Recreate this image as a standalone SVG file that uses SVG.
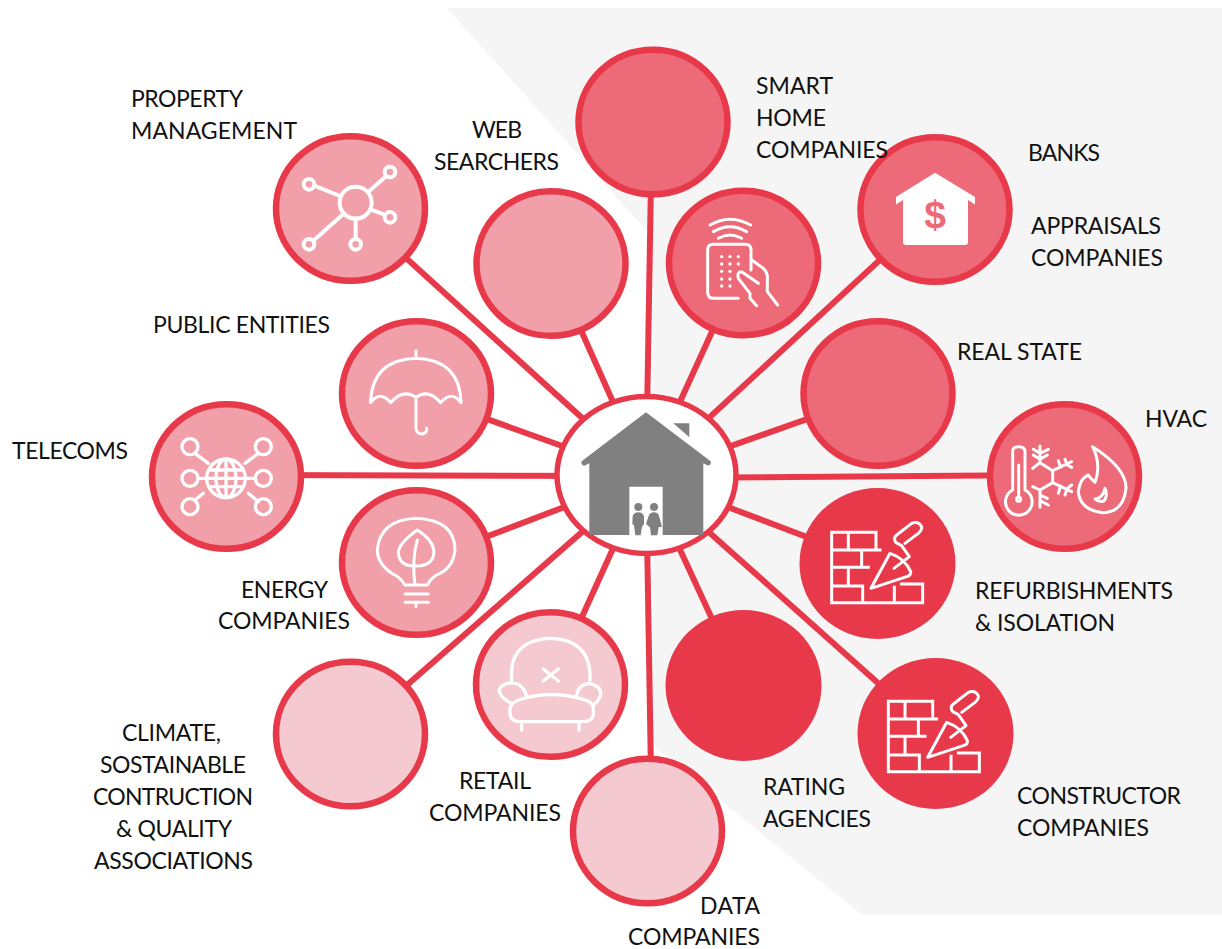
<svg xmlns="http://www.w3.org/2000/svg" width="1222" height="949" viewBox="0 0 1222 949">
<style>
text{font-family:"Lato","Open Sans","Liberation Sans",sans-serif;font-size:23px;fill:#111}
.c{stroke:#E8394A;stroke-width:6.500}
.d{fill:#E8394A}.m{fill:#ED6A78}.l{fill:#F19FA8}.p{fill:#F4CAD0}
.i{fill:none;stroke:#fff;stroke-width:9;stroke-linecap:round;stroke-linejoin:round}
#connectors line{stroke:#E8394A;stroke-width:6}
</style>
<defs>
<g id="bricks" class="i" transform="scale(.3333)" style="stroke-linecap:square;stroke-linejoin:miter">
<path d="M125,157H258V210H125ZM175,157V210M258,210H270M125,157V368M125,262H235M215,210V262M175,262V318M125,318H218V368M125,368H398V312H335M313,322V368"/>
<path d="M243,325L300,220Q345,235 362,275Q365,285 350,290Z" style="stroke-linejoin:round"/>
<path d="M312,265L358,230L335,197L318,188Q308,175 320,165L365,130Q385,122 395,140Q397,150 385,160L345,190" style="stroke-linejoin:round;stroke-linecap:round"/>
</g>
</defs>
<polygon points="447,8 1222,8 1222,915 862,915 653,745 653,238" fill="#F5F5F5"/>
<g id="connectors">
<line x1="646" y1="476" x2="351" y2="208"/>
<line x1="646" y1="476" x2="551" y2="263"/>
<line x1="646" y1="476" x2="652" y2="122"/>
<line x1="646" y1="476" x2="743" y2="264"/>
<line x1="646" y1="476" x2="935" y2="209"/>
<line x1="646" y1="476" x2="878" y2="394"/>
<line x1="646" y1="478" x2="1064" y2="475"/>
<line x1="646" y1="476" x2="878" y2="564"/>
<line x1="646" y1="476" x2="743" y2="686"/>
<line x1="646" y1="476" x2="935" y2="734"/>
<line x1="646" y1="476" x2="652" y2="831"/>
<line x1="646" y1="476" x2="551" y2="685"/>
<line x1="646" y1="476" x2="351" y2="734"/>
<line x1="646" y1="476" x2="417" y2="563"/>
<line x1="646" y1="476" x2="226" y2="475"/>
<line x1="646" y1="476" x2="417" y2="394"/>
</g>
<g id="node-property"><ellipse class="c l" cx="350.500" cy="208.500" rx="74.500" ry="72.300"/>
<g class="i" transform="translate(260,120) scale(.3333)" style="stroke-width:12"><circle cx="287" cy="248" r="48"/><circle cx="147" cy="193" r="16"/><circle cx="390" cy="156" r="16"/><circle cx="390" cy="292" r="16"/><circle cx="147" cy="373" r="16"/><circle cx="287" cy="373" r="16"/><path d="M170,200L240,228M325,215L375,172M335,270L368,282M250,282L165,358M287,295V352"/></g>
<text x="131" y="107" textLength="112">PROPERTY</text><text x="131" y="139" textLength="166">MANAGEMENT</text></g>
<g id="node-web"><ellipse class="c l" cx="551" cy="263.500" rx="74.500" ry="72.300"/><text x="472" y="138" textLength="50">WEB</text><text x="434" y="170" textLength="125">SEARCHERS</text></g>
<g id="node-banks"><ellipse class="c m" cx="935" cy="209.500" rx="74.500" ry="72.300"/>
<path d="M935,172.700L975,197V204.500L968,200V242Q968,245 965,245H906Q903,245 903,242V200L896,204.500V197Z" fill="#fff"/>
<text x="935" y="228" text-anchor="middle" style="font-family:'Liberation Sans',sans-serif;font-size:39px;font-weight:700;fill:#ED6A78">$</text>
<text x="1028" y="161" textLength="72">BANKS</text><text x="1031" y="234" textLength="130">APPRAISALS</text><text x="1031" y="266" textLength="132">COMPANIES</text></g>
<g id="node-smart"><ellipse class="c m" cx="653" cy="122" rx="74.500" ry="72.300"/><text x="756" y="94" textLength="77">SMART</text><text x="756" y="126" textLength="70">HOME</text><text x="756" y="158" textLength="132">COMPANIES</text></g>
<g id="node-remote"><ellipse class="c m" cx="743.500" cy="263" rx="74.500" ry="72.300"/>
<g transform="translate(650,130) scale(.3333)"><g class="i"><path d="M180,285Q240,250 302,285M190,305Q240,275 290,305M205,325Q240,305 275,325"/>
<path d="M265,505H190Q173,505 173,485V360Q173,343 190,343H285Q303,343 303,360V420"/>
<path d="M305,390L340,415Q355,430 352,450V485L383,525M325,460L275,425Q260,425 265,445L300,490V505L320,527"/></g>
<g fill="#fff"><circle cx="215" cy="380" r="5"/><circle cx="240" cy="380" r="5"/><circle cx="265" cy="380" r="5"/><circle cx="215" cy="402" r="5"/><circle cx="240" cy="402" r="5"/><circle cx="265" cy="402" r="5"/><circle cx="215" cy="424" r="5"/><circle cx="240" cy="424" r="5"/><circle cx="215" cy="447" r="5"/><circle cx="240" cy="447" r="5"/><circle cx="215" cy="468" r="5"/><circle cx="240" cy="468" r="5"/></g></g></g>
<g id="node-realstate"><ellipse class="c m" cx="878" cy="393.500" rx="74.500" ry="72.300"/><text x="957" y="360" textLength="125">REAL STATE</text></g>
<g id="node-hvac"><ellipse class="c m" cx="1064.500" cy="476.500" rx="74.500" ry="72.300"/>
<g class="i" transform="translate(980,395) scale(.3333)"><path d="M98,285V170Q98,155 117,155Q135,155 135,170V285A40,40 0 1 1 98,285Z"/><path d="M116,210V300"/><circle cx="116" cy="313" r="6"/>
<path d="M338,155Q440,220 438,280Q430,352 368,353Q300,345 295,290Q300,250 325,240Q335,255 345,262Q365,210 338,155Z"/><path d="M375,280Q385,300 372,318Q355,322 345,312Q368,310 375,280Z"/></g>
<g class="i" transform="translate(990,430) scale(.3333)"><path d="M188,122V158M188,122L150,98V48M150,98L128,115M130,58L150,70L175,58M130,75L150,88L172,75M188,122L245,95M205,92L212,112M225,88L232,105M232,105L245,112M188,158L245,185M205,190L212,168M225,195L232,175M232,175L245,165M188,158L150,180V232M150,180L128,170M150,212L175,225M150,195L172,205"/></g>
<text x="1145" y="427" textLength="62">HVAC</text></g>
<g id="node-refurb"><ellipse class="d" cx="877.500" cy="563.500" rx="78" ry="75.500"/><use href="#bricks" x="790" y="480"/><text x="975" y="599" textLength="198">REFURBISHMENTS</text><text x="975" y="631" textLength="140">&amp; ISOLATION</text></g>
<g id="node-rating"><ellipse class="d" cx="743.500" cy="685.500" rx="78" ry="75.500"/><text x="763" y="795" textLength="82">RATING</text><text x="763" y="827" textLength="108">AGENCIES</text></g>
<g id="node-constructor"><ellipse class="d" cx="935.500" cy="733.500" rx="78" ry="75.500"/><use href="#bricks" x="846.700" y="649"/><text x="1017" y="804" textLength="164">CONSTRUCTOR</text><text x="1017" y="836" textLength="132">COMPANIES</text></g>
<g id="node-data"><ellipse class="c p" cx="647.500" cy="831" rx="74.500" ry="72.300"/><text x="700" y="914" textLength="60">DATA</text><text x="628" y="945" textLength="132">COMPANIES</text></g>
<g id="node-retail"><ellipse class="c p" cx="550.500" cy="684.500" rx="74.500" ry="72.300"/>
<g class="i" transform="translate(465,605) scale(.3333)" style="stroke-width:10"><path d="M140,225Q130,105 258,100Q380,105 375,225M235,192L280,228M280,192L235,228"/>
<path d="M135,293Q95,270 105,250Q125,225 160,238Q180,250 185,275M335,270Q340,240 370,235Q405,240 408,265Q405,285 385,300"/>
<path d="M135,310Q140,290 170,282Q260,255 350,282Q385,290 385,310V330Q380,350 355,350H165Q135,350 135,325ZM170,350V375M342,350V375"/></g>
<text x="459" y="789" textLength="72">RETAIL</text><text x="429" y="821" textLength="132">COMPANIES</text></g>
<g id="node-climate"><ellipse class="c p" cx="350.500" cy="734" rx="74.500" ry="72.300"/><text x="122" y="741" textLength="99">CLIMATE,</text><text x="100" y="773" textLength="146">SOSTAINABLE</text><text x="93" y="805" textLength="160">CONTRUCTION</text><text x="116" y="837" textLength="116">&amp; QUALITY</text><text x="94" y="869" textLength="159">ASSOCIATIONS</text></g>
<g id="node-energy"><ellipse class="c l" cx="416.500" cy="562.500" rx="74.500" ry="72.300"/>
<g class="i" transform="translate(140,310) scale(.3333)"><path d="M795,825Q780,800 755,790Q712,760 712,720Q720,630 828,625Q945,630 945,720Q940,770 900,790Q875,800 862,825ZM795,852H865M795,877H865M828,877V890"/>
<path d="M832,660Q775,700 775,730Q780,770 825,768Q880,770 882,725Q880,690 832,660ZM825,825Q815,750 832,690"/></g>
<text x="241" y="598" textLength="87">ENERGY</text><text x="218" y="629" textLength="132">COMPANIES</text></g>
<g id="node-telecoms"><ellipse class="c l" cx="226.500" cy="476.500" rx="74.500" ry="72.300"/>
<g class="i" transform="translate(140,310) scale(.3333)" style="stroke-width:10"><circle cx="258" cy="505" r="58"/><ellipse cx="258" cy="505" rx="30" ry="58"/><path d="M258,447V563M200,505H316M210,480H306M210,530H306"/><circle cx="150" cy="410" r="24"/><circle cx="370" cy="410" r="24"/><circle cx="150" cy="505" r="24"/><circle cx="370" cy="505" r="24"/><circle cx="150" cy="590" r="24"/><circle cx="370" cy="590" r="24"/><path d="M165,430L205,460M355,430L315,460M175,505H198M318,505H345M190,550L165,570M325,550L355,575"/></g>
<text x="12" y="459" textLength="116">TELECOMS</text></g>
<g id="node-public"><ellipse class="c l" cx="416.500" cy="393.500" rx="74.500" ry="72.300"/>
<g class="i" transform="translate(140,310) scale(.3333)"><path d="M692,278Q695,150 828,145Q960,150 963,278M828,122V145M692,278Q720,240 752,278Q790,235 828,262Q865,235 902,278Q935,240 963,278M828,262V355Q830,372 848,372Q862,368 860,355"/></g>
<text x="153" y="333" textLength="177">PUBLIC ENTITIES</text></g>
<g id="hub"><ellipse cx="646.500" cy="475" rx="89.500" ry="78.500" fill="#fff" stroke="#E8394A" stroke-width="5.500"/>
<g transform="translate(560,380) scale(.3333)" fill="#808080"><path d="M258,97L452,244Q455,255 445,257L430,250V465H308V320H208V465H88V250L73,257Q62,255 65,244Z"/><path d="M340,130H388V172Z"/>
<circle cx="235" cy="381" r="12"/><circle cx="282" cy="381" r="12"/><path d="M218,408Q222,398 235,397Q248,398 252,408L252,432L246,440L242,466H226L222,436L217,432ZM266,408Q270,397 282,397Q294,397 297,408L306,440L296,442L292,466H273L270,442L258,432Z"/></g></g>
</svg>
